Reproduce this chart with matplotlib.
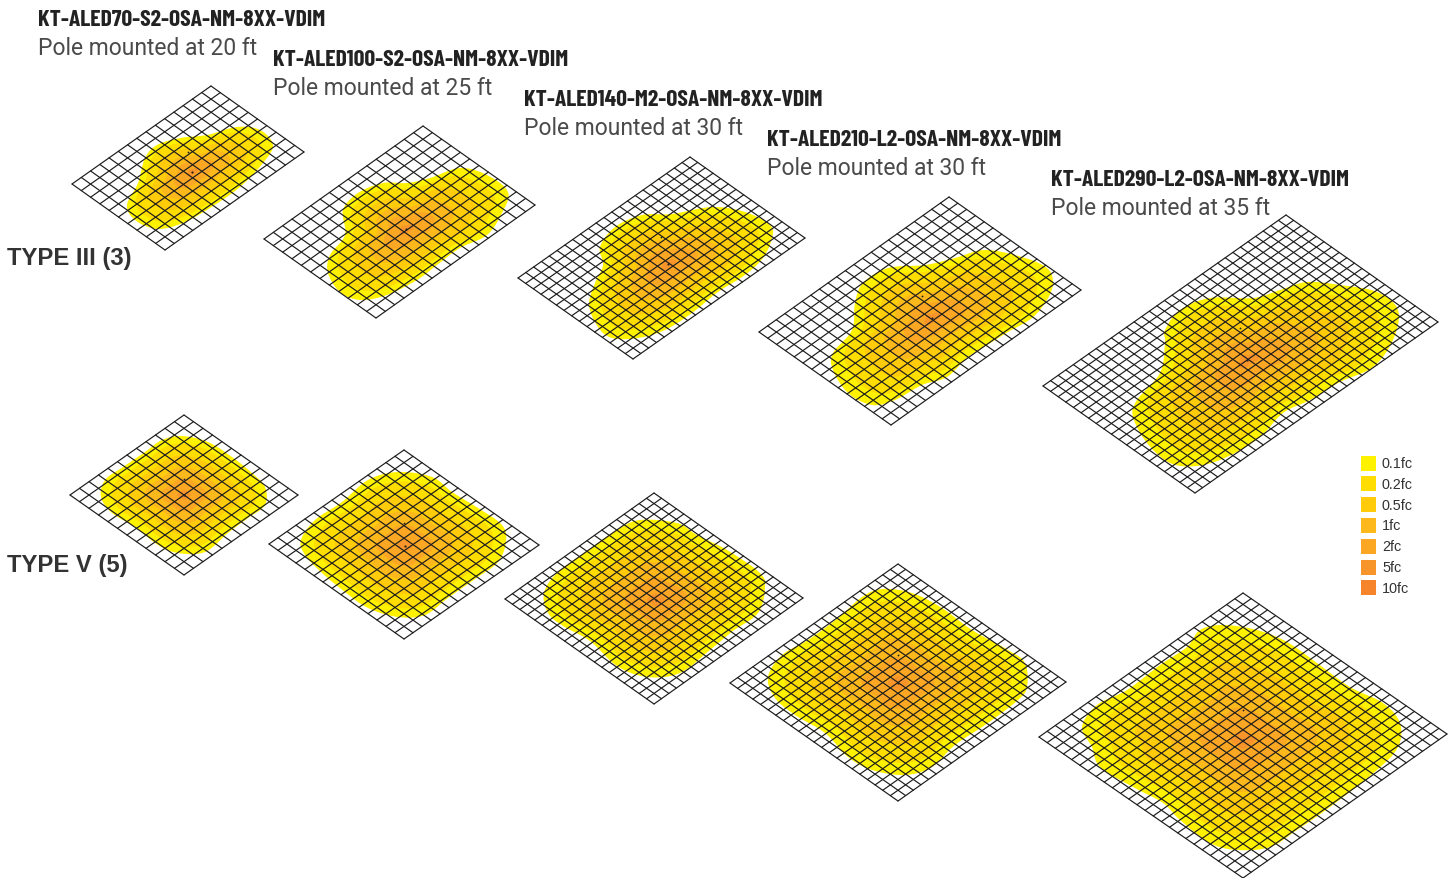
import numpy as np
import matplotlib
matplotlib.use("Agg")
import matplotlib.pyplot as plt
from matplotlib import font_manager as fm
from matplotlib.transforms import Affine2D
from matplotlib.patches import Rectangle

names = {f.name for f in fm.fontManager.ttflist}
if "Barlow Condensed" in names:
    TITLE_FAMILY, TITLE_SIZE = "Barlow Condensed", 17.05
else:
    TITLE_FAMILY, TITLE_SIZE = "Roboto", 12.9

LEGEND_LABELS = ["0.1fc", "0.2fc", "0.5fc", "1fc", "2fc", "5fc", "10fc"]
LEGEND_COLORS = ["#FFF200", "#FFDD00", "#FFCB0B", "#FDB81B", "#FBA723", "#F8952A", "#F5842B"]
LEVEL_REACH = [1.0, 0.87, 0.67, 0.47, 0.28, 0.08]

MODELS = ["KT-ALED70-S2-OSA-NM-8XX-VDIM", "KT-ALED100-S2-OSA-NM-8XX-VDIM",
          "KT-ALED140-M2-OSA-NM-8XX-VDIM", "KT-ALED210-L2-OSA-NM-8XX-VDIM",
          "KT-ALED290-L2-OSA-NM-8XX-VDIM"]
HEIGHTS = ["Pole mounted at 20 ft", "Pole mounted at 25 ft", "Pole mounted at 30 ft",
           "Pole mounted at 30 ft", "Pole mounted at 35 ft"]
LABEL_X = [38, 273, 524, 767, 1051]
LABEL_Y = [18, 58, 98, 138, 178]
TYPES = ["TYPE III (3)", "TYPE V (5)"]
TYPE_Y = [257, 564]

III_CORNERS = [((72,184),(211,86),(165,250)), ((264,239),(423,126),(376,318)),
               ((518,278),(690,157),(633,359)), ((759,332),(949,197),(891,425)),
               ((1043,386),(1286,215),(1195,493))]
III_CELLS = [(15,10),(17,12),(22,15),(22,15),(32,20)]
V_CORNERS = [((70,495),(184,415),(184,575)), ((269,544),(404,450),(404,639)),
             ((505,599),(654,493),(654,704)), ((730,683),(898,564),(898,801)),
             ((1039,737),(1243,593),(1243,878))]
V_CELLS = [(12,12),(15,15),(20,20),(22,22),(25,25)]

III_PEAK = [(192,172),(406,229),(668,264),(932,318),(1247,360)]
V_PEAK = [(184,495),(405,546),(656,600),(898,683),(1243,740)]
III_DOT = [(188,152),(399,202),(661,237),(922,296),(1240,328)]
V_DOT = [(184,479),(404,523),(654,577),(898,655),(1243,710)]

III_1 = [(237,127),(260,130),(273,145),(263,163),(240,187),(210,208),(183,223),(157,229),(135,220),(127,205),(138,183),(145,158),(157,145),(180,138),(207,135)]
III_2 = [(460,168),(487,175),(508,192),(502,213),(487,235),(460,248),(437,265),(417,280),(387,295),(360,300),(340,292),(328,273),(330,255),(345,235),(343,210),(358,193),(383,183),(407,183),(430,178)]
III_3 = [(712,207),(745,212),(770,225),(772,238),(763,258),(745,275),(718,292),(692,313),(665,330),(638,338),(612,338),(598,327),(589,305),(595,283),(603,265),(600,247),(615,227),(642,215),(672,214)]
III_4 = [(985,250),(1022,257),(1047,268),(1053,283),(1047,300),(1032,318),(1008,332),(992,342),(968,357),(947,377),(922,385),(895,400),(872,405),(848,393),(833,370),(833,353),(852,330),(855,303),(863,283),(888,268),(925,265),(955,258)]
III_5 = [(1307,282),(1340,285),(1377,292),(1398,310),(1393,340),(1373,367),(1340,382),(1310,400),(1283,413),(1260,437),(1227,457),(1197,466),(1170,463),(1147,443),(1133,417),(1137,400),(1160,373),(1165,343),(1165,330),(1180,310),(1210,298),(1253,298),(1280,290)]
V_1 = [(182,436),(208,442),(232,457),(252,473),(265,487),(265,505),(248,518),(228,533),(205,552),(178,553),(158,545),(135,527),(112,513),(101,497),(105,480),(123,467),(145,452),(162,440)]
V_2 = [(398,472),(432,477),(452,492),(478,508),(502,525),(506,542),(498,562),(478,577),(448,598),(425,615),(398,617),(368,608),(345,592),(322,573),(305,555),(301,540),(315,520),(342,502),(368,480)]
V_3 = [(640,520),(677,523),(697,535),(727,550),(760,573),(765,588),(758,613),(733,631),(710,650),(680,673),(647,677),(617,666),(590,641),(563,626),(548,613),(544,593),(557,573),(587,551),(617,530)]
V_4 = [(882,589),(912,593),(942,608),(972,630),(1008,650),(1025,663),(1027,687),(1018,700),(988,723),(955,745),(932,767),(905,775),(872,770),(848,757),(825,733),(795,715),(775,698),(768,677),(782,655),(808,640),(838,618),(862,597)]
V_5 = [(1223,625),(1257,630),(1287,642),(1317,663),(1350,687),(1383,703),(1400,723),(1398,747),(1377,770),(1330,807),(1297,830),(1270,847),(1237,850),(1210,843),(1180,820),(1163,803),(1133,787),(1100,767),(1092,747),(1082,727),(1097,705),(1127,690),(1160,665),(1187,647),(1200,630)]

fig = plt.figure(figsize=(14.5, 8.79), dpi=100, facecolor="white")
ax = fig.add_axes([0, 0, 1, 1])
ax.set_xlim(0, 1450)
ax.set_ylim(878, -1)
ax.axis("off")


def smooth_closed(pts, n=14):
    p = np.asarray(pts, float)
    t = np.linspace(0, 1, n, endpoint=False)[:, None]
    out = []
    for i in range(len(p)):
        p0, p1, p2, p3 = p[i-1], p[i], p[(i+1) % len(p)], p[(i+2) % len(p)]
        out.append(0.5*((2*p1) + (p2-p0)*t + (2*p0-5*p1+4*p2-p3)*t**2 + (3*p1-p0-3*p2+p3)*t**3))
    return np.vstack(out)


def draw_plate(corners, cells, outline, peak, dot):
    left, top, bottom = (np.array(c, float) for c in corners)
    nu, nv = cells
    shape = smooth_closed(outline)
    centre = np.array(peak, float)
    for reach, colour in zip(LEVEL_REACH, LEGEND_COLORS):
        poly = centre + (shape - centre) * reach
        ax.fill(poly[:, 0], poly[:, 1], color=colour, lw=0, zorder=2)
    eu, ev = (top-left)/nu, (bottom-left)/nv
    tr = Affine2D.from_values(eu[0], eu[1], ev[0], ev[1], left[0], left[1]) + ax.transData
    for i in range(nu+1):
        ax.plot([i, i], [0, nv], color="#1c1c1c", lw=0.85, transform=tr, zorder=3, solid_capstyle="round")
    for j in range(nv+1):
        ax.plot([0, nu], [j, j], color="#1c1c1c", lw=0.85, transform=tr, zorder=3, solid_capstyle="round")
    ax.plot(*dot, "o", ms=1.3, color="#222222", mew=0, zorder=4)
    ax.plot(*peak, "o", ms=1.6, color="#222222", mew=0, zorder=4)


III_SHAPES = [III_1, III_2, III_3, III_4, III_5]
V_SHAPES = [V_1, V_2, V_3, V_4, V_5]
for k in range(5):
    draw_plate(III_CORNERS[k], III_CELLS[k], III_SHAPES[k], III_PEAK[k], III_DOT[k])
    draw_plate(V_CORNERS[k], V_CELLS[k], V_SHAPES[k], V_PEAK[k], V_DOT[k])

for x, y, m, h in zip(LABEL_X, LABEL_Y, MODELS, HEIGHTS):
    ax.text(x, y+1.5, m, family=TITLE_FAMILY, weight="bold", fontsize=TITLE_SIZE, color="#222222", va="center", ha="left", zorder=6)
    ax.text(x, y+29.5, h, family="Roboto", weight="normal", fontsize=16.5, color="#4a4a4a", va="center", ha="left", zorder=6)

for label, y in zip(TYPES, TYPE_Y):
    ax.text(7, y+1, label, family="Liberation Sans", weight="bold", fontsize=17.2, color="#333333", va="center", ha="left", zorder=6)

for i, (label, colour) in enumerate(zip(LEGEND_LABELS, LEGEND_COLORS)):
    yc = 463 + 20.8*i
    ax.add_patch(Rectangle((1361, yc-7.5), 15, 15, facecolor=colour, edgecolor="none", zorder=5))
    ax.text(1382, yc, label, family="Liberation Sans", fontsize=10.4, color="#333333", va="center", ha="left", zorder=6)

fig.savefig("out.png", dpi=100, facecolor="white")
